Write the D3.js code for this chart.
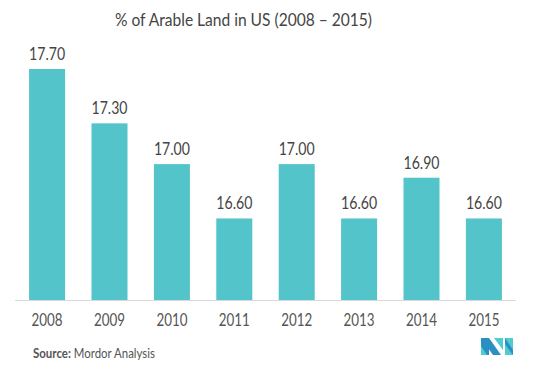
<!DOCTYPE html>
<html>
<head>
<meta charset="utf-8">
<script src="https://cdn.jsdelivr.net/npm/d3@7"></script>
<style>
  body { margin: 0; background: #fff; }
  svg { display: block; }
  text { font-family: "Lato", sans-serif; }
</style>
</head>
<body>
<svg width="538" height="371"></svg>
<script>
const years = ["2008", "2009", "2010", "2011", "2012", "2013", "2014", "2015"];
const values = [17.70, 17.30, 17.00, 16.60, 17.00, 16.60, 16.90, 16.60];

const svg = d3.select("svg");
const data = years.map((y, i) => ({year: y, value: values[i]}));

const x = d3.scaleBand().domain(years).range([15, 516]).paddingInner(0.423).paddingOuter(0.226);
const y = d3.scaleLinear().domain([16, 17.7]).range([300, 69]);

// title (narrow font in the original, so squeeze a bit)
svg.append("text")
   .attr("x", 115).attr("y", 26)
   .attr("font-size", 16.5)
   .attr("fill", "#444")
   .attr("textLength", 257)
   .attr("lengthAdjust", "spacingAndGlyphs")
   .text("% of Arable Land in US (2008 – 2015)");

// bars
svg.selectAll(".bar").data(data).enter()
   .append("rect")
   .attr("class", "bar")
   .attr("x", d => x(d.year))
   .attr("width", x.bandwidth())
   .attr("y", d => y(d.value))
   .attr("height", d => 300 - y(d.value))
   .attr("fill", "#52c4ca");

// value labels
svg.selectAll(".val").data(data).enter()
   .append("text")
   .attr("class", "val")
   .attr("x", d => x(d.year) + x.bandwidth() / 2 - 18)
   .attr("y", d => y(d.value) - 9)
   .attr("font-size", 17.5)
   .attr("fill", "#444")
   .attr("textLength", 36)
   .attr("lengthAdjust", "spacingAndGlyphs")
   .text(d => d.value.toFixed(2));

// x axis
const xAxis = svg.append("g")
   .attr("transform", "translate(0,300)")
   .call(d3.axisBottom(x).tickSize(0).tickPadding(14));
xAxis.select(".domain").attr("stroke", "#d9d9d9").attr("d", "M15,0.5H516");
xAxis.selectAll("text")
   .attr("font-size", 17.5)
   .attr("fill", "#555")
   .attr("font-family", "Lato, sans-serif")
   .attr("text-anchor", "start")
   .attr("x", -15.5)
   .attr("textLength", 31)
   .attr("lengthAdjust", "spacingAndGlyphs");

// source
const src = svg.append("text")
   .attr("x", 33).attr("y", 358)
   .attr("font-size", 12.5)
   .attr("fill", "#555")
   .attr("textLength", 122)
   .attr("lengthAdjust", "spacingAndGlyphs");
src.append("tspan").attr("font-weight", "bold").text("Source:");
src.append("tspan").text(" Mordor Analysis");

// logo
const logo = svg.append("g").attr("transform", "translate(481,338)");
logo.append("polygon").attr("points", "0,0 8,0 8,17 0,17").attr("fill", "#2b8fc2");
logo.append("polygon").attr("points", "0,0 8,0 20,17 12,17").attr("fill", "#2b8fc2");
logo.append("polygon").attr("points", "0,8 6,17 0,17").attr("fill", "#4fcbd2");
logo.append("polygon").attr("points", "13,0 22,0 22,12").attr("fill", "#4fcbd2");
logo.append("polygon").attr("points", "24,0 32,0 32,17 24,17").attr("fill", "#4fcbd2");
logo.append("polygon").attr("points", "24,0 32,12 32,17 24,6").attr("fill", "#2b8fc2");
</script>
</body>
</html>
